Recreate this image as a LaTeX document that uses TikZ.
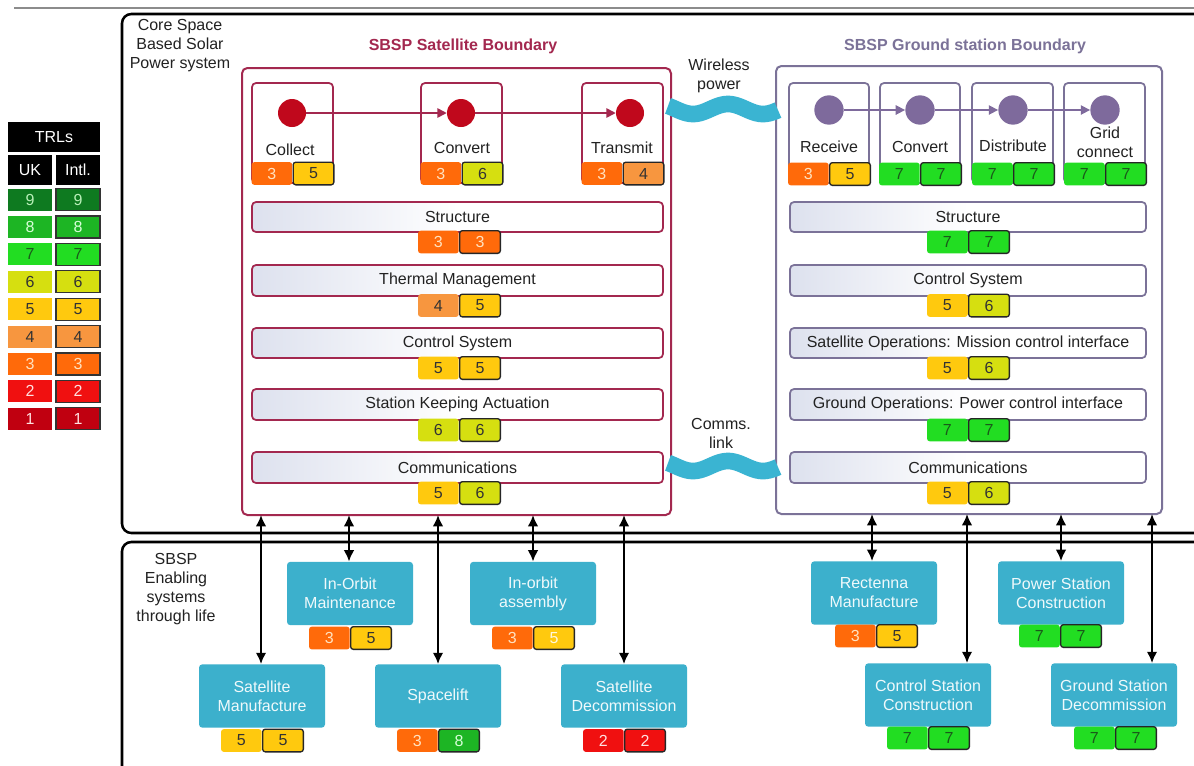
\documentclass[tikz,border=0pt]{standalone}
\usepackage{fontspec}
\setmainfont{Liberation Sans}
\usetikzlibrary{arrows.meta,fit}
\definecolor{crim}{HTML}{A3284F}
\definecolor{crimdot}{HTML}{C0081C}
\definecolor{gpur}{HTML}{7B7298}
\definecolor{gdot}{HTML}{7E6A9C}
\definecolor{wavec}{HTML}{3AB4D2}
\definecolor{boxc}{HTML}{3CB0CC}
\definecolor{barl}{HTML}{DDE1EE}
\definecolor{txt}{HTML}{222222}
\definecolor{t9}{HTML}{0E7A20}\definecolor{tt9}{HTML}{B8F0B8}
\definecolor{t8}{HTML}{1DB524}\definecolor{tt8}{HTML}{D8FFD8}
\definecolor{t7}{HTML}{22DD22}\definecolor{tt7}{HTML}{1A5A1A}
\definecolor{t6}{HTML}{D6DF10}\definecolor{tt6}{HTML}{333333}
\definecolor{t5}{HTML}{FFC90E}\definecolor{tt5}{HTML}{333333}
\definecolor{t4}{HTML}{F7963F}\definecolor{tt4}{HTML}{333333}
\definecolor{t3}{HTML}{FF6A0A}\definecolor{tt3}{HTML}{FFE2C0}
\definecolor{t2}{HTML}{F01010}\definecolor{tt2}{HTML}{FFE0E0}
\definecolor{t1}{HTML}{C00010}\definecolor{tt1}{HTML}{FFE0E0}
\newcommand\trlbadge[5]{%
  \node[ukc, fill=t#4, text=tt#4, anchor=east] (#1u) at (#2,#3) {#4};
  \node[inc, fill=t#5, text=tt#5, anchor=west] (#1i) at (#2,#3) {#5};
}
\begin{document}
\begin{tikzpicture}[x=0.75pt,y=-0.75pt,
  f12/.style={font=\fontsize{12}{14.25}\selectfont},
  lbl/.style={f12, text=txt, inner sep=0pt, align=center},
  ttl/.style={font=\fontsize{12}{14.25}\selectfont\bfseries, inner sep=0pt},
  outer/.style={draw=black, line width=1.9pt, rounded corners=7pt, inner sep=0pt},
  sbound/.style={draw=crim, line width=1.5pt, rounded corners=4pt, inner sep=0pt},
  gbound/.style={draw=gpur, line width=1.5pt, rounded corners=4pt, inner sep=0pt},
  sfbox/.style={draw=crim, line width=1.3pt, rounded corners=3pt, inner sep=0pt},
  gfbox/.style={draw=gpur, line width=1.3pt, rounded corners=3pt, inner sep=0pt},
  sbar/.style={sfbox, left color=barl, right color=white, middle color=white},
  gbar/.style={gfbox, left color=barl, right color=white, middle color=white},
  sdot/.style={circle, fill=crimdot, minimum size=21pt, inner sep=0pt},
  gdotst/.style={circle, fill=gdot, minimum size=22pt, inner sep=0pt},
  sflow/.style={draw=crim, line width=1.2pt, -{Triangle[length=7pt,width=7pt]}},
  gflow/.style={draw=gdot, line width=1.2pt, -{Triangle[length=7pt,width=7pt]}},
  wave/.style={draw=wavec, line width=12.5pt},
  ebox/.style={fill=boxc, rounded corners=2.5pt, minimum width=94.5pt, minimum height=47.5pt, inner sep=0pt, f12, text=white!92!boxc, align=center},
  dbl/.style={line width=1.6pt, {Latex[length=8.5pt,width=8pt]}-{Latex[length=8.5pt,width=8pt]}},
  ukc/.style={minimum width=30.5pt, minimum height=17pt, inner sep=0pt, rounded corners=2pt, f12},
  inc/.style={ukc, draw=black!85, line width=1pt},
  legc/.style={minimum width=33pt, minimum height=16.5pt, inner sep=0pt, f12},
  legh/.style={fill=black, text=white, inner sep=0pt, f12},
]
\useasboundingbox (0,0) rectangle (1194,765);
\fill[white] (0,0) rectangle (1194,765);
\clip (0,0) rectangle (1194,765);

% top rule
\coordinate (rl) at (14,8);
\coordinate (rr) at (1194,8);
\draw[black!45, line width=1.2pt] (rl) -- (rr);

% outer frames
\node[outer, fit={(122,14)(1240,533)}] (core) {};
\node[outer, fit={(122,542)(1240,800)}] (ena) {};
\node[lbl] (coretxt) at (180,46) {Core Space\\Based Solar\\Power system};
\node[lbl] (enatxt) at (176,589.5) {SBSP\\Enabling\\systems\\through life};

% legend
\node[legh, minimum width=69pt, minimum height=22.5pt] (lh) at (54,137) {TRLs};
\node[legh, minimum width=33pt, minimum height=22.5pt] (luk) at (30,170) {UK};
\node[legh, minimum width=33pt, minimum height=22.5pt] (lin) at (78,170) {Intl.};
\foreach \n in {1,...,9}{
  \pgfmathsetmacro{\yy}{199.5+27.4*(9-\n)}
  \node[legc, fill=t\n, text=tt\n] (lu\n) at (30,\yy) {\n};
  \node[legc, fill=t\n, text=tt\n, draw=black!80, line width=0.9pt] (li\n) at (78,\yy) {\n};
}

% titles
\node[ttl, text=crim] (stitle) at (463,46) {SBSP Satellite Boundary};
\node[ttl, text=gpur] (gtitle) at (965,46) {SBSP Ground station Boundary};
\node[lbl] (wtxt) at (719,75.5) {Wireless\\power};
\node[lbl] (ctxt) at (721,433) {Comms.\\link};

% boundaries
\node[sbound, fit={(242,68)(671,515)}] (sat) {};
\node[gbound, fit={(776,66)(1162,514)}] (gnd) {};

% satellite function boxes
\node[sfbox, fit={(252,83)(333,183)}] (fcol) {};
\node[sfbox, fit={(421,83)(502,183)}] (fcon) {};
\node[sfbox, fit={(582,83)(663,183)}] (ftra) {};
\node[sdot] (c1) at (292,113) {};
\node[sdot] (c2) at (461,113) {};
\node[sdot] (c3) at (630,113) {};
\draw[sflow] (c1) -- (c2);
\draw[sflow] (c2) -- (c3);
\node[lbl] (lcol) at (290,150) {Collect};
\node[lbl] (lcon) at (462,148) {Convert};
\node[lbl] (ltra) at (622,148) {Transmit};
\trlbadge{bcol}{292.5}{173.5}{3}{5}
\trlbadge{bcon}{461.5}{173.5}{3}{6}
\trlbadge{btra}{622.5}{173.5}{3}{4}

% satellite bars
\node[sbar, fit={(252,202)(663,232)}] (sstr) {};
\node[sbar, fit={(252,265)(663,296)}] (sthm) {};
\node[sbar, fit={(252,328)(663,358)}] (sctl) {};
\node[sbar, fit={(252,389)(663,420)}] (sskp) {};
\node[sbar, fit={(252,452)(663,483)}] (scom) {};
\node[lbl] (tsstr) at (sstr.center) {Structure};
\node[lbl] (tsthm) at (sthm.center) {Thermal Management};
\node[lbl] (tsctl) at (sctl.center) {Control System};
\node[lbl] (tsskp) at (sskp.center) {Station Keeping Actuation};
\node[lbl] (tscom) at (scom.center) {Communications};
\trlbadge{bsstr}{459}{242}{3}{3}
\trlbadge{bsthm}{459}{305.5}{4}{5}
\trlbadge{bsctl}{459}{368}{5}{5}
\trlbadge{bsskp}{459}{430}{6}{6}
\trlbadge{bscom}{459}{493}{5}{6}

% ground function boxes
\node[gfbox, fit={(789,83)(869,183)}] (frec) {};
\node[gfbox, fit={(880,83)(960,183)}] (fgcv) {};
\node[gfbox, fit={(972,83)(1053,183)}] (fdis) {};
\node[gfbox, fit={(1064,83)(1145,183)}] (fgrd) {};
\node[gdotst] (g1) at (829,110) {};
\node[gdotst] (g2) at (920,110) {};
\node[gdotst] (g3) at (1013,110) {};
\node[gdotst] (g4) at (1105,110) {};
\draw[gflow] (g1) -- (g2);
\draw[gflow] (g2) -- (g3);
\draw[gflow] (g3) -- (g4);
\node[lbl] (lrec) at (829,147) {Receive};
\node[lbl] (lgcv) at (920,147) {Convert};
\node[lbl] (ldis) at (1013,146) {Distribute};
\node[lbl] (lgrd) at (1105,142.5) {Grid\\connect};
\trlbadge{brec}{829}{174}{3}{5}
\trlbadge{bgcv}{920}{174}{7}{7}
\trlbadge{bdis}{1013}{174}{7}{7}
\trlbadge{bgrd}{1105}{174}{7}{7}

% ground bars
\node[gbar, fit={(790,202)(1146,232)}] (gstr) {};
\node[gbar, fit={(790,265)(1146,296)}] (gctl) {};
\node[gbar, fit={(790,328)(1146,358)}] (gsop) {};
\node[gbar, fit={(790,389)(1146,420)}] (ggop) {};
\node[gbar, fit={(790,452)(1146,483)}] (gcom) {};
\node[lbl] (tgstr) at (gstr.center) {Structure};
\node[lbl] (tgctl) at (gctl.center) {Control System};
\node[lbl] (tgsop) at (gsop.center) {Satellite Operations: Mission control interface};
\node[lbl] (tggop) at (ggop.center) {Ground Operations: Power control interface};
\node[lbl] (tgcom) at (gcom.center) {Communications};
\trlbadge{bgstr}{968}{242}{7}{7}
\trlbadge{bgctl}{968}{305.5}{5}{6}
\trlbadge{bgsop}{968}{368}{5}{6}
\trlbadge{bggop}{968}{430}{7}{7}
\trlbadge{bgcom}{968}{493}{5}{6}

% wireless links
\draw[wave] plot[domain=668:778, samples=60, smooth] (\x,{109+5*sin(5.142857*(\x-675.5))});
\draw[wave] plot[domain=668:778, samples=60, smooth] (\x,{466+5*sin(5.142857*(\x-675.5))});

% enabling systems
\node[ebox] (sm) at (262,696) {Satellite\\Manufacture};
\node[ebox] (iom) at (350,593.5) {In-Orbit\\Maintenance};
\node[ebox] (sl) at (438,696) {Spacelift};
\node[ebox] (ioa) at (533,593.5) {In-orbit\\assembly};
\node[ebox] (sd) at (624,696) {Satellite\\Decommission};
\node[ebox] (rm) at (874,593) {Rectenna\\Manufacture};
\node[ebox] (psc) at (1061,593) {Power Station\\Construction};
\node[ebox] (csc) at (928,695) {Control Station\\Construction};
\node[ebox] (gsd) at (1114,695) {Ground Station\\Decommission};
\trlbadge{bsm}{262}{740.5}{5}{5}
\trlbadge{biom}{350}{638}{3}{5}
\trlbadge{bsl}{438}{740.5}{3}{8}
\node[ukc, fill=t3, text=tt3, anchor=east] (bioau) at (533,638) {3};
\node[inc, fill=t5, text=white!85!t5, anchor=west] (bioai) at (533,638) {5};
\trlbadge{bsd}{624}{740.5}{2}{2}
\trlbadge{brm}{876}{636}{3}{5}
\trlbadge{bpsc}{1060}{636}{7}{7}
\trlbadge{bcsc}{928}{738}{7}{7}
\trlbadge{bgsd}{1115}{738}{7}{7}

% arrows
\coordinate (s1) at (261,515);
\coordinate (s2) at (349,515);
\coordinate (s3) at (438,515);
\coordinate (s4) at (533,515);
\coordinate (s5) at (624,515);
\coordinate (r1) at (872,514);
\coordinate (r2) at (967,514);
\coordinate (r3) at (1061,514);
\coordinate (r4) at (1152,514);
\draw[dbl] (s1) -- (s1 |- sm.north);
\draw[dbl] (s2) -- (s2 |- iom.north);
\draw[dbl] (s3) -- (s3 |- sl.north);
\draw[dbl] (s4) -- (s4 |- ioa.north);
\draw[dbl] (s5) -- (s5 |- sd.north);
\draw[dbl] (r1) -- (r1 |- rm.north);
\draw[dbl] (r2) -- (r2 |- csc.north);
\draw[dbl] (r3) -- (r3 |- psc.north);
\draw[dbl] (r4) -- (r4 |- gsd.north);
\end{tikzpicture}
\end{document}
